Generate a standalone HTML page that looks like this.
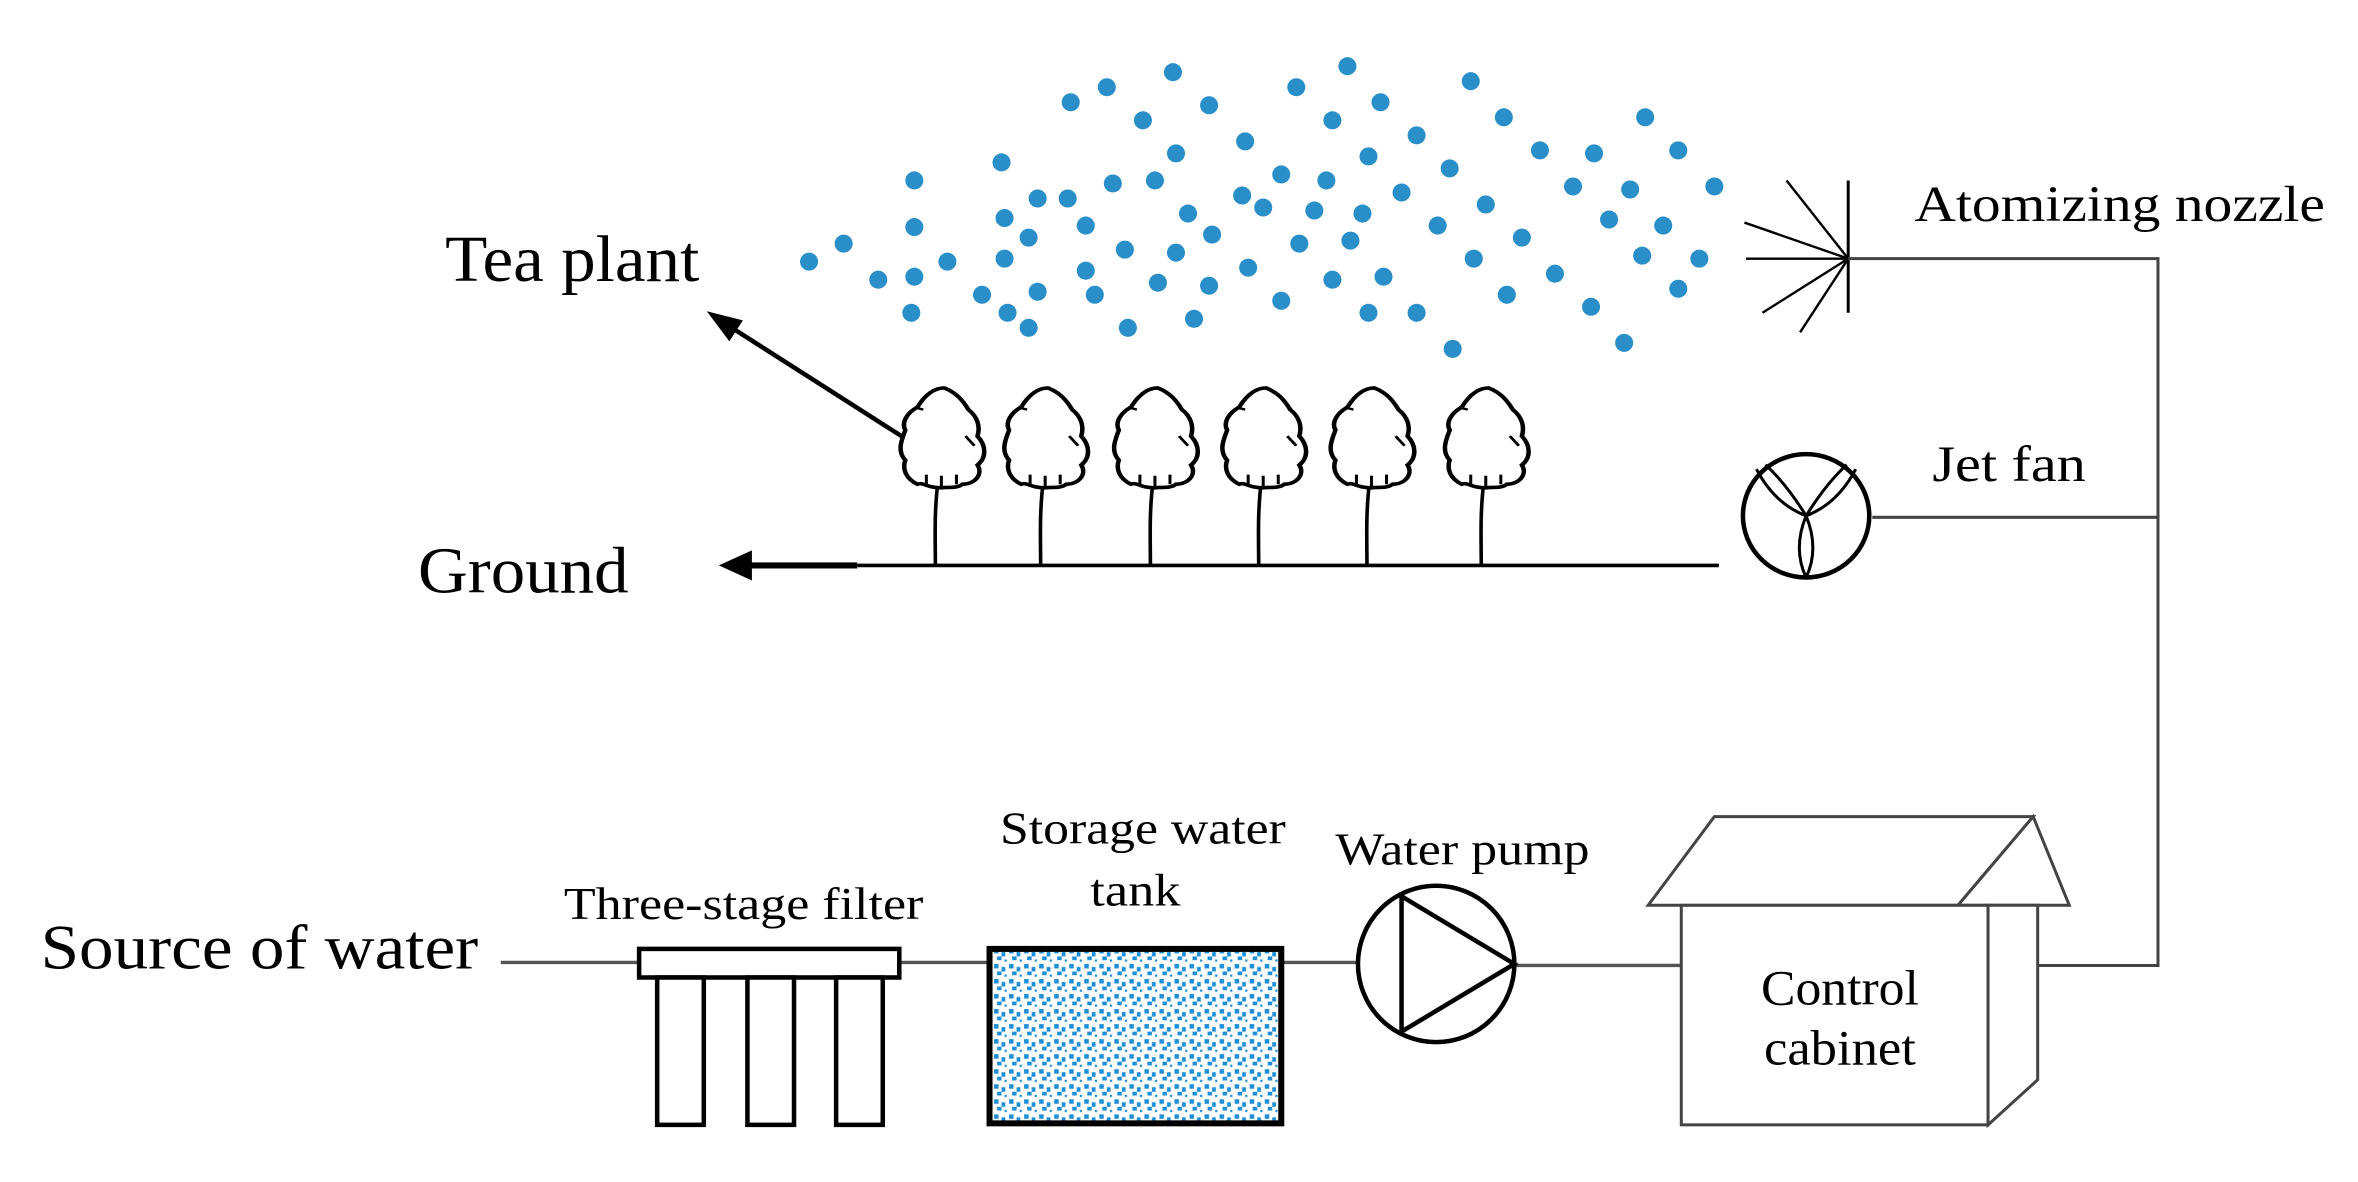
<!DOCTYPE html>
<html><head><meta charset="utf-8"><style>
html,body{margin:0;padding:0;background:#fff;}
svg{display:block;}
text{font-family:"Liberation Serif",serif;fill:#000;}
</style></head><body>
<svg width="2358" height="1182" viewBox="0 0 1568 786" preserveAspectRatio="none" xmlns="http://www.w3.org/2000/svg">
<defs>
<pattern id="wp" width="10" height="10" patternUnits="userSpaceOnUse">
<rect x="1" y="1" width="3" height="3" fill="#1e8fd6"/>
<rect x="6" y="3" width="2.5" height="3" fill="#1e8fd6"/>
<rect x="3" y="6" width="3" height="2.5" fill="#1e8fd6"/>
<rect x="8" y="8" width="1.5" height="1.5" fill="#1e8fd6"/>
</pattern>
<g id="t">
<path d="M0,-117 C-10,-117 -12,-122 -16,-120 C-24,-125 -26,-133 -24,-140 C-30,-148 -26,-158 -24,-165 C-27,-172 -22,-180 -16,-184 C-12,-192 -6,-200 2,-200 C10,-196 14,-190 18,-182 C24,-176 26,-168 24,-160 C30,-152 30,-142 24,-136 C28,-128 22,-120 14,-120 C10,-116 4,-118 0,-117 Z" fill="#fff" stroke="#000" stroke-width="3"/>
<path d="M16,-160 l6,8 M0,-117 l0,-10 M-18,-184 l6,2 M-10,-120 l0,-8 M10,-120 l0,-8" fill="none" stroke="#000" stroke-width="2"/>
</g>
</defs>

<!-- droplets -->
<g fill="#2a8fc8">
<circle cx="538" cy="174" r="6"/><circle cx="561" cy="162" r="6"/><circle cx="584" cy="186" r="6"/><circle cx="608" cy="120" r="6"/><circle cx="608" cy="151" r="6"/><circle cx="608" cy="184" r="6"/><circle cx="606" cy="208" r="6"/><circle cx="630" cy="174" r="6"/><circle cx="653" cy="196" r="6"/><circle cx="666" cy="108" r="6"/><circle cx="668" cy="145" r="6"/><circle cx="668" cy="172" r="6"/><circle cx="670" cy="208" r="6"/><circle cx="684" cy="158" r="6"/><circle cx="684" cy="218" r="6"/><circle cx="690" cy="132" r="6"/><circle cx="690" cy="194" r="6"/><circle cx="710" cy="132" r="6"/><circle cx="712" cy="68" r="6"/><circle cx="722" cy="150" r="6"/><circle cx="722" cy="180" r="6"/><circle cx="728" cy="196" r="6"/><circle cx="736" cy="58" r="6"/><circle cx="740" cy="122" r="6"/><circle cx="748" cy="166" r="6"/><circle cx="750" cy="218" r="6"/><circle cx="760" cy="80" r="6"/><circle cx="768" cy="120" r="6"/><circle cx="770" cy="188" r="6"/><circle cx="780" cy="48" r="6"/><circle cx="782" cy="102" r="6"/><circle cx="782" cy="168" r="6"/><circle cx="790" cy="142" r="6"/><circle cx="794" cy="212" r="6"/><circle cx="804" cy="70" r="6"/><circle cx="806" cy="156" r="6"/><circle cx="804" cy="190" r="6"/><circle cx="826" cy="130" r="6"/><circle cx="828" cy="94" r="6"/><circle cx="830" cy="178" r="6"/><circle cx="840" cy="138" r="6"/><circle cx="852" cy="116" r="6"/><circle cx="852" cy="200" r="6"/><circle cx="862" cy="58" r="6"/><circle cx="864" cy="162" r="6"/><circle cx="874" cy="140" r="6"/><circle cx="882" cy="120" r="6"/><circle cx="886" cy="80" r="6"/><circle cx="886" cy="186" r="6"/><circle cx="896" cy="44" r="6"/><circle cx="898" cy="160" r="6"/><circle cx="906" cy="142" r="6"/><circle cx="910" cy="104" r="6"/><circle cx="910" cy="208" r="6"/><circle cx="918" cy="68" r="6"/><circle cx="920" cy="184" r="6"/><circle cx="932" cy="128" r="6"/><circle cx="942" cy="208" r="6"/><circle cx="942" cy="90" r="6"/><circle cx="956" cy="150" r="6"/><circle cx="964" cy="112" r="6"/><circle cx="966" cy="232" r="6"/><circle cx="978" cy="54" r="6"/><circle cx="980" cy="172" r="6"/><circle cx="988" cy="136" r="6"/><circle cx="1000" cy="78" r="6"/><circle cx="1002" cy="196" r="6"/><circle cx="1012" cy="158" r="6"/><circle cx="1024" cy="100" r="6"/><circle cx="1034" cy="182" r="6"/><circle cx="1046" cy="124" r="6"/><circle cx="1060" cy="102" r="6"/><circle cx="1058" cy="204" r="6"/><circle cx="1070" cy="146" r="6"/><circle cx="1084" cy="126" r="6"/><circle cx="1080" cy="228" r="6"/><circle cx="1094" cy="78" r="6"/><circle cx="1106" cy="150" r="6"/><circle cx="1092" cy="170" r="6"/><circle cx="1116" cy="100" r="6"/><circle cx="1116" cy="192" r="6"/><circle cx="1130" cy="172" r="6"/><circle cx="1140" cy="124" r="6"/>
</g>

<!-- nozzle -->
<g stroke="#000" stroke-width="1.6" fill="none">
<line x1="1229" y1="120" x2="1229" y2="208" stroke-width="2"/>
<line x1="1229" y1="172" x2="1188" y2="120"/>
<line x1="1229" y1="172" x2="1160" y2="148"/>
<line x1="1229" y1="172" x2="1161" y2="172"/>
<line x1="1229" y1="172" x2="1172" y2="208"/>
<line x1="1229" y1="172" x2="1197" y2="221"/>
</g>
<g stroke="#444" stroke-width="2" fill="none">
<polyline points="1229,172 1435,172 1435,642 1355,642"/>
<line x1="1245" y1="344" x2="1435" y2="344"/>
</g>

<!-- fan -->
<g stroke="#000" fill="none">
<ellipse cx="1201" cy="343" rx="42" ry="41" stroke-width="3"/>
<g stroke-width="2">
<path d="M1201,343 Q1180,335 1168,312 M1201,343 Q1188,322 1174,309"/>
<path d="M1201,343 Q1222,335 1234,312 M1201,343 Q1214,322 1228,309"/>
<path d="M1201,343 Q1192,365 1201,384 M1201,343 Q1210,365 1201,384"/>
</g>
</g>

<!-- ground -->
<line x1="570" y1="376" x2="1143" y2="376" stroke="#000" stroke-width="2.4"/>
<line x1="570" y1="376" x2="492" y2="376" stroke="#000" stroke-width="4"/>
<path d="M478,376 L500,366 L500,386 Z" fill="#000"/>

<!-- tea plant arrow -->
<line x1="612" y1="298" x2="482" y2="215" stroke="#000" stroke-width="3"/>
<path d="M470,207 L494,213 L485,227 Z" fill="#000"/>

<!-- trees -->
<g stroke="#000" stroke-width="2.4" fill="none">
<path d="M624,318 C621,340 622,360 622,376"/>
<path d="M694,318 C691,340 692,360 692,376"/>
<path d="M767,318 C764,340 765,360 765,376"/>
<path d="M839,318 C836,340 837,360 837,376"/>
<path d="M911,318 C908,340 909,360 909,376"/>
<path d="M987,318 C984,340 985,360 985,376"/>
</g>
<use href="#t" transform="translate(626,418) scale(1,0.8)"/>
<use href="#t" transform="translate(695,418) scale(1,0.8)"/>
<use href="#t" transform="translate(768,418) scale(1,0.8)"/>
<use href="#t" transform="translate(840,418) scale(1,0.8)"/>
<use href="#t" transform="translate(912,418) scale(1,0.8)"/>
<use href="#t" transform="translate(988,418) scale(1,0.8)"/>

<!-- bottom pipeline -->
<g stroke="#555" stroke-width="2.2">
<line x1="333" y1="640" x2="425" y2="640"/>
<line x1="598" y1="640" x2="658" y2="640"/>
<line x1="852" y1="640" x2="903" y2="640"/>
<line x1="1008" y1="642" x2="1118" y2="642"/>
</g>
<!-- filter -->
<g stroke="#000" stroke-width="3" fill="#fff">
<rect x="425" y="631" width="173" height="19"/>
<rect x="437" y="650" width="31" height="98"/>
<rect x="497" y="650" width="31" height="98"/>
<rect x="556" y="650" width="31" height="98"/>
</g>
<!-- tank -->
<rect x="658" y="631" width="194" height="116" fill="url(#wp)" stroke="#000" stroke-width="4"/>
<!-- pump -->
<circle cx="955" cy="641" r="52" fill="none" stroke="#000" stroke-width="3"/>
<path d="M932,596 L1007,641 L932,686 Z" fill="none" stroke="#000" stroke-width="3"/>
<!-- cabinet -->
<g stroke="#444" stroke-width="2" fill="#fff">
<path d="M1096,602 L1140,543 L1352,543 L1302,602 Z"/>
<path d="M1302,602 L1352,543 L1376,602 Z"/>
<rect x="1118" y="602" width="204" height="146"/>
<path d="M1322,602 L1355,602 L1355,718 L1322,748 Z"/>
</g>

<!-- labels -->
<text x="296" y="187" font-size="44" textLength="169" lengthAdjust="spacingAndGlyphs">Tea plant</text>
<text x="278" y="394" font-size="44" textLength="140" lengthAdjust="spacingAndGlyphs">Ground</text>
<text x="1273" y="147" font-size="34" textLength="273" lengthAdjust="spacingAndGlyphs">Atomizing nozzle</text>
<text x="1285" y="320" font-size="34" textLength="102" lengthAdjust="spacingAndGlyphs">Jet fan</text>
<text x="27" y="644" font-size="42" textLength="291" lengthAdjust="spacingAndGlyphs">Source of water</text>
<text x="375" y="611" font-size="30" textLength="239" lengthAdjust="spacingAndGlyphs">Three-stage filter</text>
<text x="665" y="561" font-size="30" textLength="190" lengthAdjust="spacingAndGlyphs">Storage water</text>
<text x="725" y="602" font-size="30" textLength="60" lengthAdjust="spacingAndGlyphs">tank</text>
<text x="888" y="575" font-size="30" textLength="169" lengthAdjust="spacingAndGlyphs">Water pump</text>
<text x="1171" y="668" font-size="33" textLength="105" lengthAdjust="spacingAndGlyphs">Control</text>
<text x="1173" y="708" font-size="33" textLength="101" lengthAdjust="spacingAndGlyphs">cabinet</text>
</svg>
</body></html>
